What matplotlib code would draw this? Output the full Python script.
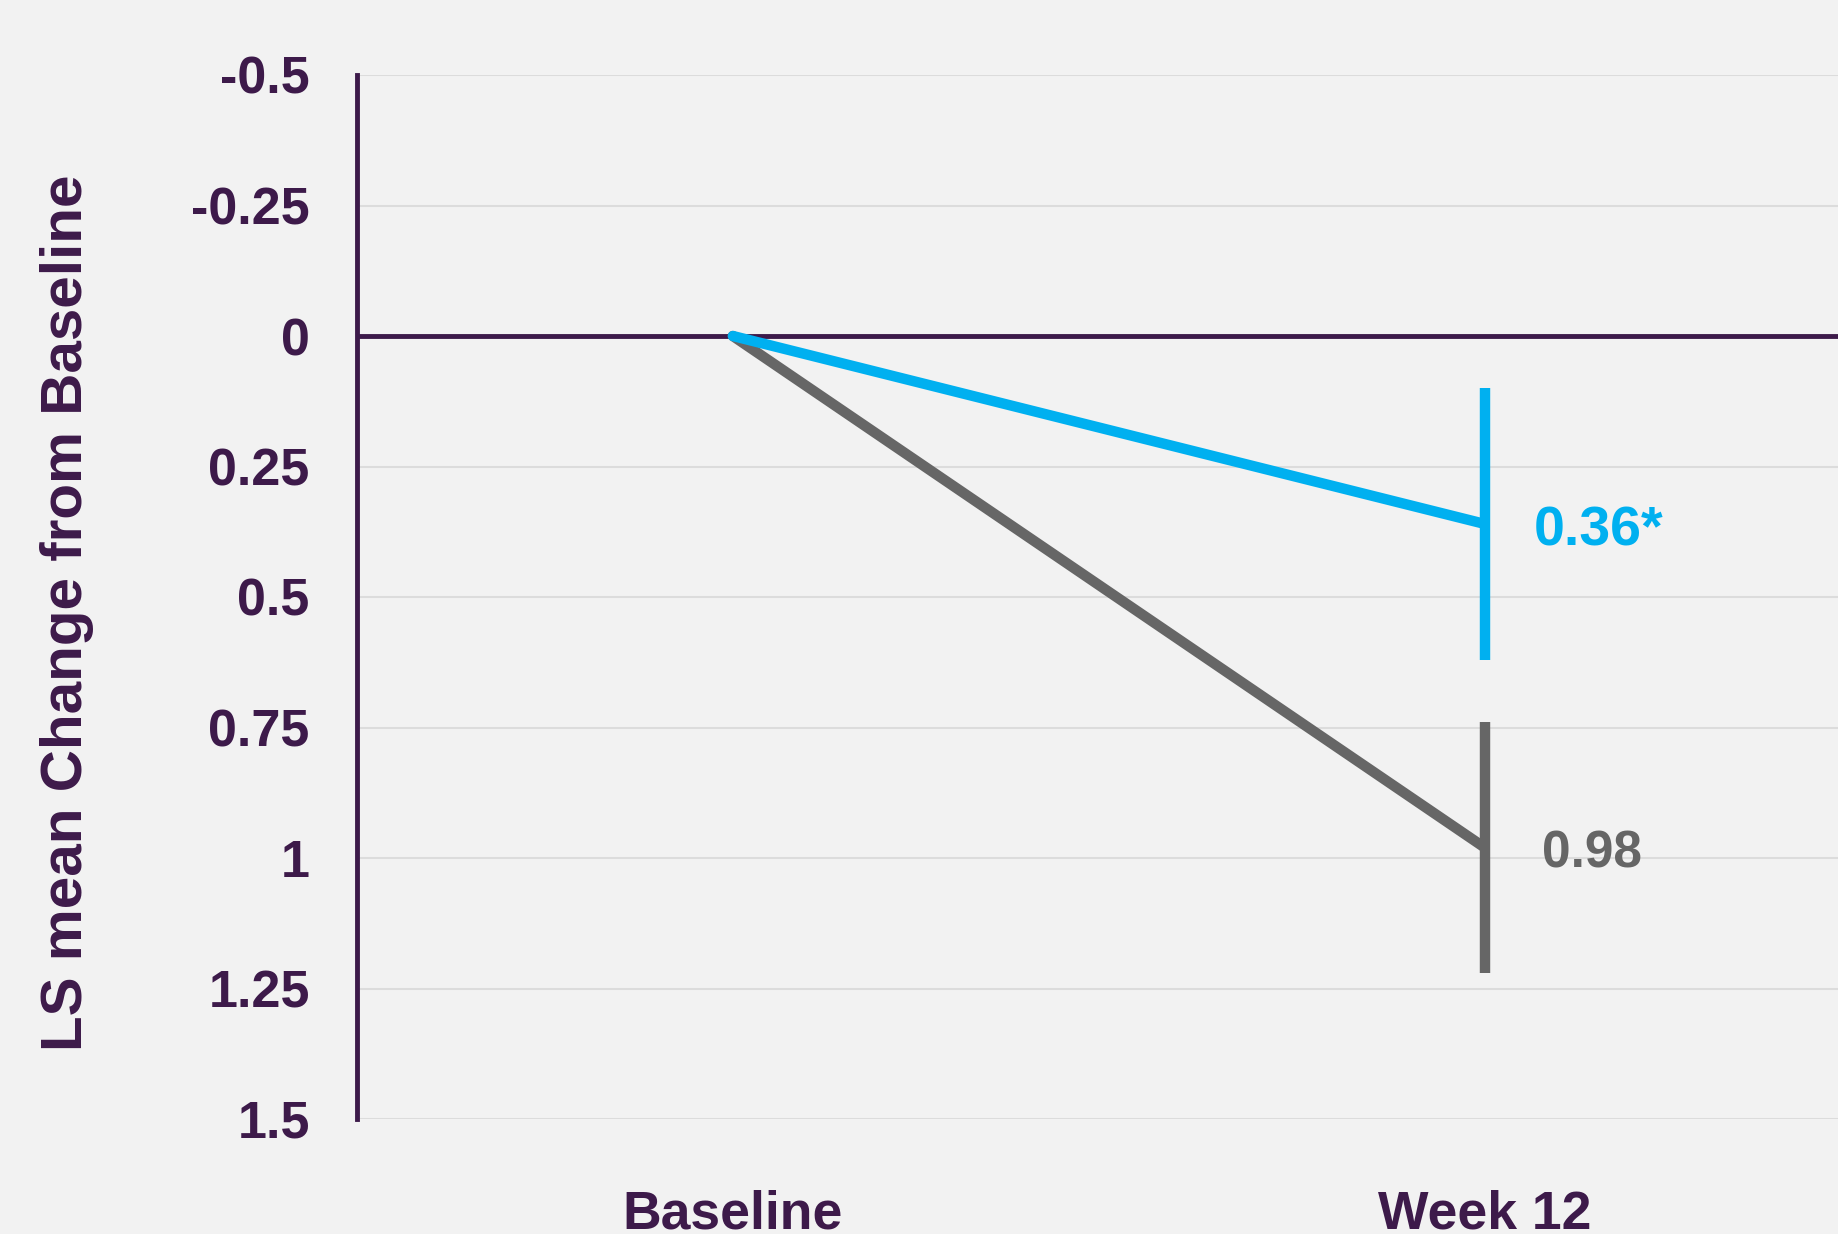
import numpy as np
import matplotlib.pyplot as plt

plt.rcParams['font.family'] = ['Liberation Sans', 'DejaVu Sans']
plt.rcParams['font.weight'] = 'bold'

# data (y axis is inverted: larger change plotted lower)
timepoints = ['Baseline', 'Week 12']
blue_mean = [0, 0.36]
blue_err_low = [0, 0.26]
blue_err_high = [0, 0.26]
gray_mean = [0, 0.98]
gray_err_low = [0, 0.24]
gray_err_high = [0, 0.24]
y_ticks = [-0.5, -0.25, 0, 0.25, 0.5, 0.75, 1, 1.25, 1.5]
y_ticklabels = ['-0.5', '-0.25', '0', '0.25', '0.5', '0.75', '1', '1.25', '1.5']
blue_label = '0.36*'
gray_label = '0.98'

purple = '#3D1A4A'
blue = '#00B0F0'
gray = '#666666'
bg = '#F2F2F2'

fig = plt.figure(figsize=(18.38, 12.34), dpi=100, facecolor=bg)
ax = fig.add_axes([357/1838, 115/1234, 1 - 357/1838, 1044/1234])
ax.set_facecolor(bg)

x = np.arange(len(timepoints))

# light gridlines
for yt in y_ticks:
    ax.axhline(yt, color='#DCDCDC', lw=1.5, zorder=0)
ax.axhline(0, color=purple, lw=3.5, zorder=1)

ax.plot(x, gray_mean, color=gray, lw=7.5, zorder=3, solid_capstyle='round')
ax.errorbar(x[1:], gray_mean[1:], yerr=[gray_err_low[1:], gray_err_high[1:]],
            fmt='none', ecolor=gray, elinewidth=7.5, capsize=0, zorder=3)
ax.plot(x, blue_mean, color=blue, lw=7.5, zorder=4, solid_capstyle='round')
ax.errorbar(x[1:], blue_mean[1:], yerr=[blue_err_low[1:], blue_err_high[1:]],
            fmt='none', ecolor=blue, elinewidth=7.5, capsize=0, zorder=4)

ax.text(1.065, blue_mean[1] + 0.015, blue_label, color=blue, fontsize=40,
        fontweight='bold', va='center', ha='left')
ax.text(1.076, gray_mean[1] + 0.012, gray_label, color=gray, fontsize=37,
        fontweight='bold', va='center', ha='left')

ax.set_xlim(-0.5, 1.47)
ax.set_ylim(1.5, -0.5)
ax.set_yticks(y_ticks)
ax.set_yticklabels(y_ticklabels)
ax.set_xticks(x)
ax.set_xticklabels(timepoints)
ax.tick_params(axis='y', length=0, pad=34, labelsize=37.5, labelcolor=purple)
ax.tick_params(axis='x', length=0, pad=51, labelsize=38.5, labelcolor=purple)
for lab in ax.get_xticklabels() + ax.get_yticklabels():
    lab.set_fontweight('bold')

for s in ['top', 'right', 'bottom']:
    ax.spines[s].set_visible(False)
ax.spines['left'].set_color(purple)
ax.spines['left'].set_linewidth(3.5)

fig.text(67/1838, 1 - 613/1234, 'LS mean Change from Baseline', rotation=90,
         color=purple, fontsize=42, fontweight='bold', ha='center', va='center')

fig.savefig('out.png', dpi=100, facecolor=bg)
